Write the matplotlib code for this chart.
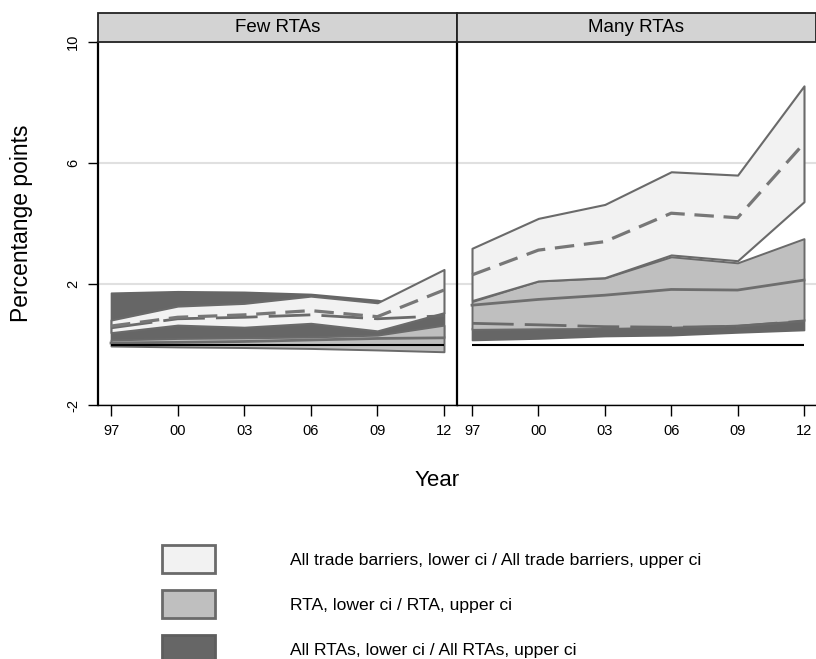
import matplotlib
matplotlib.use("Agg")
import matplotlib.pyplot as plt
from matplotlib.patches import Patch, Rectangle

plt.rcParams["font.family"] = ["Liberation Sans", "DejaVu Sans"]
plt.rcParams["lines.scale_dashes"] = False

years = [1997, 2000, 2003, 2006, 2009, 2012]
year_labels = ["97", "00", "03", "06", "09", "12"]
y_ticks = [-2, 2, 6, 10]
y_labels = ["-2", "2", "6", "10"]
panels = ["Few RTAs", "Many RTAs"]
legend_labels = ["All trade barriers, lower ci / All trade barriers, upper ci",
                 "RTA, lower ci / RTA, upper ci",
                 "All RTAs, lower ci / All RTAs, upper ci"]

# Few RTAs
few_tb_lo = [0.39, 0.64, 0.57, 0.70, 0.45, 1.05]
few_tb_hi = [0.81, 1.27, 1.36, 1.60, 1.38, 2.48]
few_tb_est = [0.61, 0.90, 0.98, 1.12, 0.92, 1.80]
few_rta_lo = [-0.05, -0.08, -0.10, -0.13, -0.18, -0.24]
few_rta_hi = [0.15, 0.20, 0.22, 0.25, 0.31, 0.64]
few_rta_est = [0.05, 0.07, 0.10, 0.15, 0.20, 0.22]
few_rtas_lo = [0.15, 0.15, 0.15, 0.17, 0.20, 0.25]
few_rtas_hi = [1.71, 1.76, 1.74, 1.67, 1.47, 1.05]
few_rtas_est = [0.55, 0.85, 0.90, 0.98, 0.85, 0.95]

# Many RTAs
many_tb_lo = [1.45, 2.10, 2.21, 2.96, 2.77, 4.72]
many_tb_hi = [3.18, 4.17, 4.63, 5.71, 5.60, 8.55]
many_tb_est = [2.30, 3.12, 3.40, 4.34, 4.19, 6.65]
many_rta_lo = [0.50, 0.52, 0.53, 0.57, 0.64, 0.79]
many_rta_hi = [1.42, 2.10, 2.20, 2.90, 2.70, 3.50]
many_rta_est = [1.30, 1.49, 1.63, 1.82, 1.80, 2.13]
many_rtas_lo = [0.15, 0.20, 0.28, 0.31, 0.40, 0.48]
many_rtas_hi = [0.55, 0.57, 0.58, 0.62, 0.68, 0.84]
many_rtas_est = [0.70, 0.65, 0.59, 0.57, 0.60, 0.78]

data = [
    (few_tb_lo, few_tb_hi, few_tb_est, few_rta_lo, few_rta_hi, few_rta_est,
     few_rtas_lo, few_rtas_hi, few_rtas_est),
    (many_tb_lo, many_tb_hi, many_tb_est, many_rta_lo, many_rta_hi,
     many_rta_est, many_rtas_lo, many_rtas_hi, many_rtas_est),
]

light, mid, dark, edge = "#f2f2f2", "#bfbfbf", "#666666", "#6a6a6a"

W, H = 816, 659
fig = plt.figure(figsize=(W / 100, H / 100), dpi=100)
bottom, height = (H - 405) / H, 363 / H
axes = [fig.add_axes([98 / W, bottom, 359 / W, height]),
        fig.add_axes([457 / W, bottom, 359 / W, height])]
xlims = [(1996.414, 2012.586), (1996.322, 2012.542)]
strip_h = 29 / 363

for i, ax in enumerate(axes):
    (tb_lo, tb_hi, tb_est, rta_lo, rta_hi, rta_est,
     rtas_lo, rtas_hi, rtas_est) = data[i]
    ax.fill_between(years, rtas_lo, rtas_hi, facecolor=dark, edgecolor=dark,
                    lw=1.2, zorder=2)
    ax.fill_between(years, rta_lo, rta_hi, facecolor=mid, edgecolor=edge,
                    lw=1.4, zorder=3)
    ax.fill_between(years, tb_lo, tb_hi, facecolor=light, edgecolor=edge,
                    lw=1.5, zorder=4)
    ax.plot(years, rta_est, color="#6e6e6e", lw=2, zorder=5)
    ax.plot(years, rtas_est, color="#6a6a6a", lw=2, dashes=(30, 8), zorder=5)
    ax.plot(years, tb_est, color="#777777", lw=2.3, dashes=(14, 7), zorder=5)
    ax.hlines(0, years[0], years[-1], color="black", lw=1.5, zorder=6)

    ax.set_xlim(*xlims[i])
    ax.set_ylim(-2, 10)
    ax.set_xticks(years)
    ax.set_xticklabels(year_labels)
    ax.set_yticks(y_ticks)
    ax.yaxis.grid(True, color="#e0e0e0", lw=1.5)
    ax.set_axisbelow(True)
    ax.tick_params(axis="x", length=8, width=1, labelsize=10.5, pad=6,
                   color="black")
    if i == 0:
        ax.set_yticklabels(y_labels, rotation=90, va="center")
        ax.tick_params(axis="y", length=7, width=1, labelsize=10.5, pad=6)
    else:
        ax.tick_params(axis="y", length=0, labelleft=False)
    for s in ["top", "right"]:
        ax.spines[s].set_visible(False)
    ax.spines["left"].set_linewidth(1.6)
    ax.spines["bottom"].set_linewidth(1.0)

    ax.add_patch(Rectangle((0, 1), 1, strip_h, transform=ax.transAxes,
                           facecolor="#d3d3d3", edgecolor="#222222", lw=1.3,
                           clip_on=False, zorder=10))
    ax.text(0.5, 1 + strip_h / 2, panels[i], transform=ax.transAxes,
            ha="center", va="center", fontsize=13.5, zorder=11)

fig.text(22 / W, 1 - 223 / H, "Percentange points", rotation=90,
         ha="center", va="center", fontsize=16.5)
fig.text(437 / W, 1 - 481 / H, "Year", ha="center", va="center", fontsize=16)

handles = [Patch(facecolor=light, edgecolor=edge, lw=2),
           Patch(facecolor=mid, edgecolor=edge, lw=2),
           Patch(facecolor=dark, edgecolor="#5e5e5e", lw=2)]
fig.legend(handles, legend_labels, loc="upper left",
           bbox_to_anchor=(162 / W, 1 - 545 / H), frameon=False,
           fontsize=12.6, handlelength=3.0, handleheight=2.1,
           handletextpad=4.3, labelspacing=0.97, borderpad=0,
           borderaxespad=0)

fig.savefig("out.png", dpi=100)
